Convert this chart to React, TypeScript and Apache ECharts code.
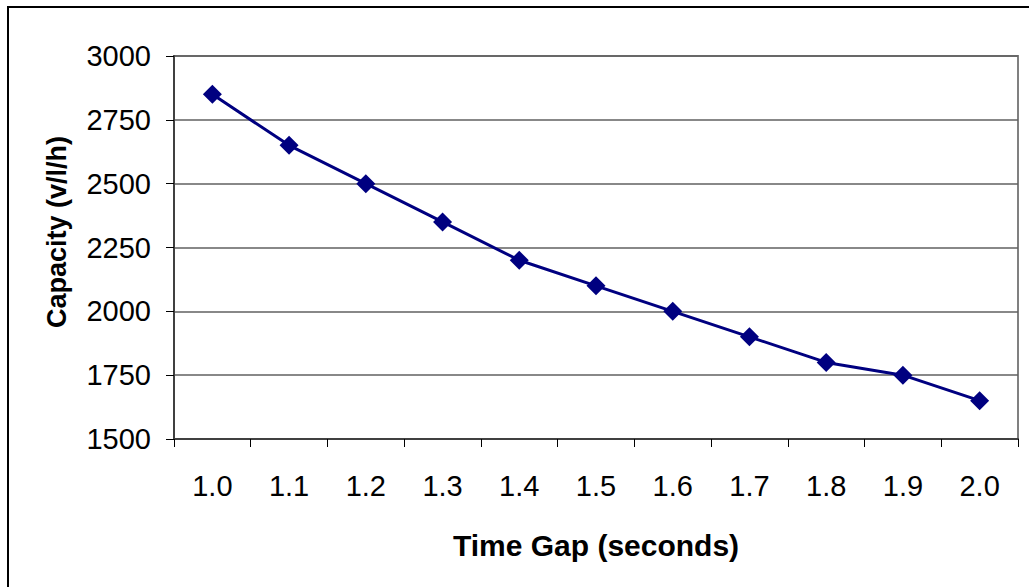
import React, { useEffect, useRef } from "react";
import * as echarts from "echarts";

const categories = ["1.0", "1.1", "1.2", "1.3", "1.4", "1.5", "1.6", "1.7", "1.8", "1.9", "2.0"];
const capacity = [2850, 2650, 2500, 2350, 2200, 2100, 2000, 1900, 1800, 1750, 1650];
const xTitle = "Time Gap (seconds)";
const yTitle = "Capacity (v/l/h)";

export default function App() {
  const ref = useRef<HTMLDivElement>(null);
  useEffect(() => {
    document.body.style.margin = "0";
    const chart = echarts.init(ref.current!, null, { renderer: "svg" });
    const font = "Arial, 'Liberation Sans', sans-serif";
    chart.setOption({
      animation: false,
      backgroundColor: "#ffffff",
      grid: {
        left: 174,
        right: 11,
        top: 56,
        bottom: 148,
        show: true,
        borderColor: "#808080",
        borderWidth: 2,
      },
      xAxis: {
        type: "category",
        data: categories,
        boundaryGap: true,
        axisLine: { show: true, lineStyle: { color: "#404040", width: 2 } },
        axisTick: { show: true, interval: 0, length: 8, lineStyle: { color: "#000", width: 1 } },
        axisLabel: { color: "#000", fontFamily: font, fontSize: 29, margin: 32, interval: 0 },
        splitLine: { show: false },
      },
      yAxis: {
        type: "value",
        min: 1500,
        max: 3000,
        interval: 250,
        axisLine: { show: true, lineStyle: { color: "#404040", width: 2 } },
        axisTick: { show: true, length: 8, lineStyle: { color: "#000", width: 1 } },
        axisLabel: {
          color: "#000",
          fontFamily: font,
          fontSize: 29,
          margin: 23,
          formatter: (v: number) => String(v),
        },
        splitLine: { show: true, lineStyle: { color: "#606060", width: 1.5 } },
      },
      graphic: [
        {
          type: "rect",
          shape: { x: 8, y: 7, width: 1040, height: 600 },
          style: { fill: "none", stroke: "#000", lineWidth: 2 },
          silent: true,
          z: 100,
        },
        {
          type: "text",
          x: 596,
          y: 545,
          style: {
            text: xTitle,
            fill: "#000",
            font: `bold 30px ${font}`,
            align: "center",
            verticalAlign: "middle",
          },
        },
        {
          type: "text",
          x: 57,
          y: 232,
          rotation: Math.PI / 2,
          style: {
            text: yTitle,
            fill: "#000",
            font: `bold 27px ${font}`,
            align: "center",
            verticalAlign: "middle",
          },
        },
      ],
      series: [
        {
          type: "line",
          data: capacity,
          symbol: "diamond",
          symbolSize: 19,
          lineStyle: { color: "#000080", width: 3 },
          itemStyle: { color: "#000080" },
        },
      ],
    });
    return () => chart.dispose();
  }, []);
  return <div ref={ref} style={{ width: 1029, height: 587 }} />;
}
